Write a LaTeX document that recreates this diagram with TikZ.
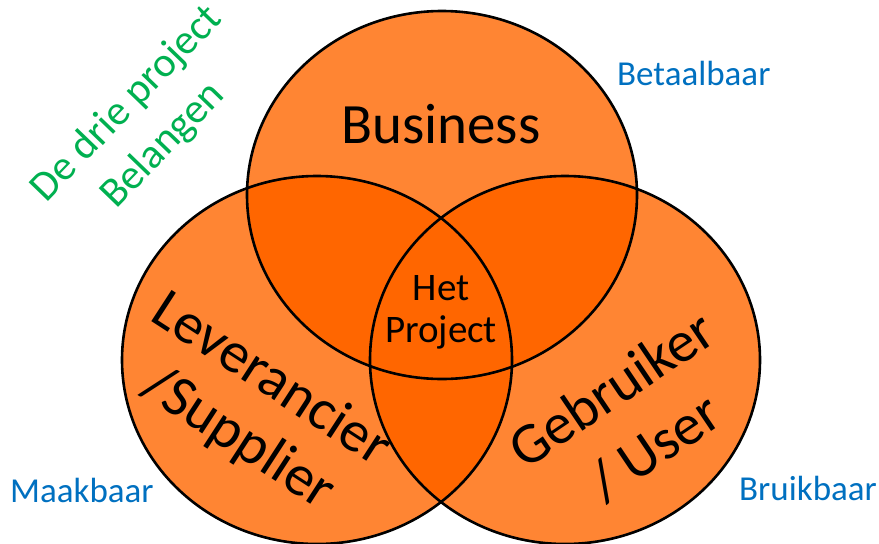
\documentclass[tikz,border=0pt]{standalone}
\usepackage{fontspec}
\setmainfont{Carlito}
\definecolor{lightor}{HTML}{FF8533}
\definecolor{darkor}{HTML}{FF6600}
\definecolor{greentxt}{HTML}{00B050}
\definecolor{bluetxt}{HTML}{0070C0}
\newcommand{\circT}{(442,195) ellipse [x radius=195pt, y radius=184pt]}
\newcommand{\circL}{(317,360) ellipse [x radius=195pt, y radius=184pt]}
\newcommand{\circR}{(565,360) ellipse [x radius=195pt, y radius=184pt]}
\tikzset{
  outline/.style={draw=black, line width=2.6pt},
  bigtxt/.style={font=\fontsize{58}{60}\selectfont, text=black, anchor=base, inner sep=0pt},
  midtxt/.style={font=\fontsize{39}{42}\selectfont, text=black, anchor=base, inner sep=0pt},
  greenlbl/.style={font=\fontsize{42}{44}\selectfont, text=greentxt, anchor=base, inner sep=0pt, rotate=46},
  bluelbl/.style={font=\fontsize{35}{36}\selectfont, text=bluetxt, anchor=base west, inner sep=0pt}
}
\begin{document}
\begin{tikzpicture}[x=1pt,y=-1pt]
\useasboundingbox (0,0) rectangle (879,544);
\fill[lightor] \circT;
\fill[lightor] \circL;
\fill[lightor] \circR;
\begin{scope}
  \clip \circT;
  \fill[darkor] \circL;
  \fill[darkor] \circR;
\end{scope}
\begin{scope}
  \clip \circL;
  \fill[darkor] \circR;
\end{scope}
\draw[outline] \circT;
\draw[outline] \circL;
\draw[outline] \circR;
\node[bigtxt, font=\fontsize{57}{60}\selectfont] (biz) at (441,143) {Business};
\node[midtxt] (het) at (441,300) {Het};
\node[midtxt] (proj) at (441,342) {Project};
\node[bigtxt, rotate=-33] (lev) at (262,393) {Leverancier};
\node[bigtxt, rotate=-33] (sup) at (230,452) {/Supplier};
\node[bigtxt, rotate=34] (geb) at (622,405) {Gebruiker};
\node[bigtxt, rotate=34] (usr) at (665,463) {/ User};
\node[greenlbl] (drie) at (135,112) {De drie project};
\node[greenlbl] (bel) at (171,153) {Belangen};
\node[bluelbl] (bet) at (617,85) {Betaalbaar};
\node[bluelbl] (maak) at (10,502) {Maakbaar};
\node[bluelbl] (bruik) at (739,500) {Bruikbaar};
\end{tikzpicture}
\end{document}
